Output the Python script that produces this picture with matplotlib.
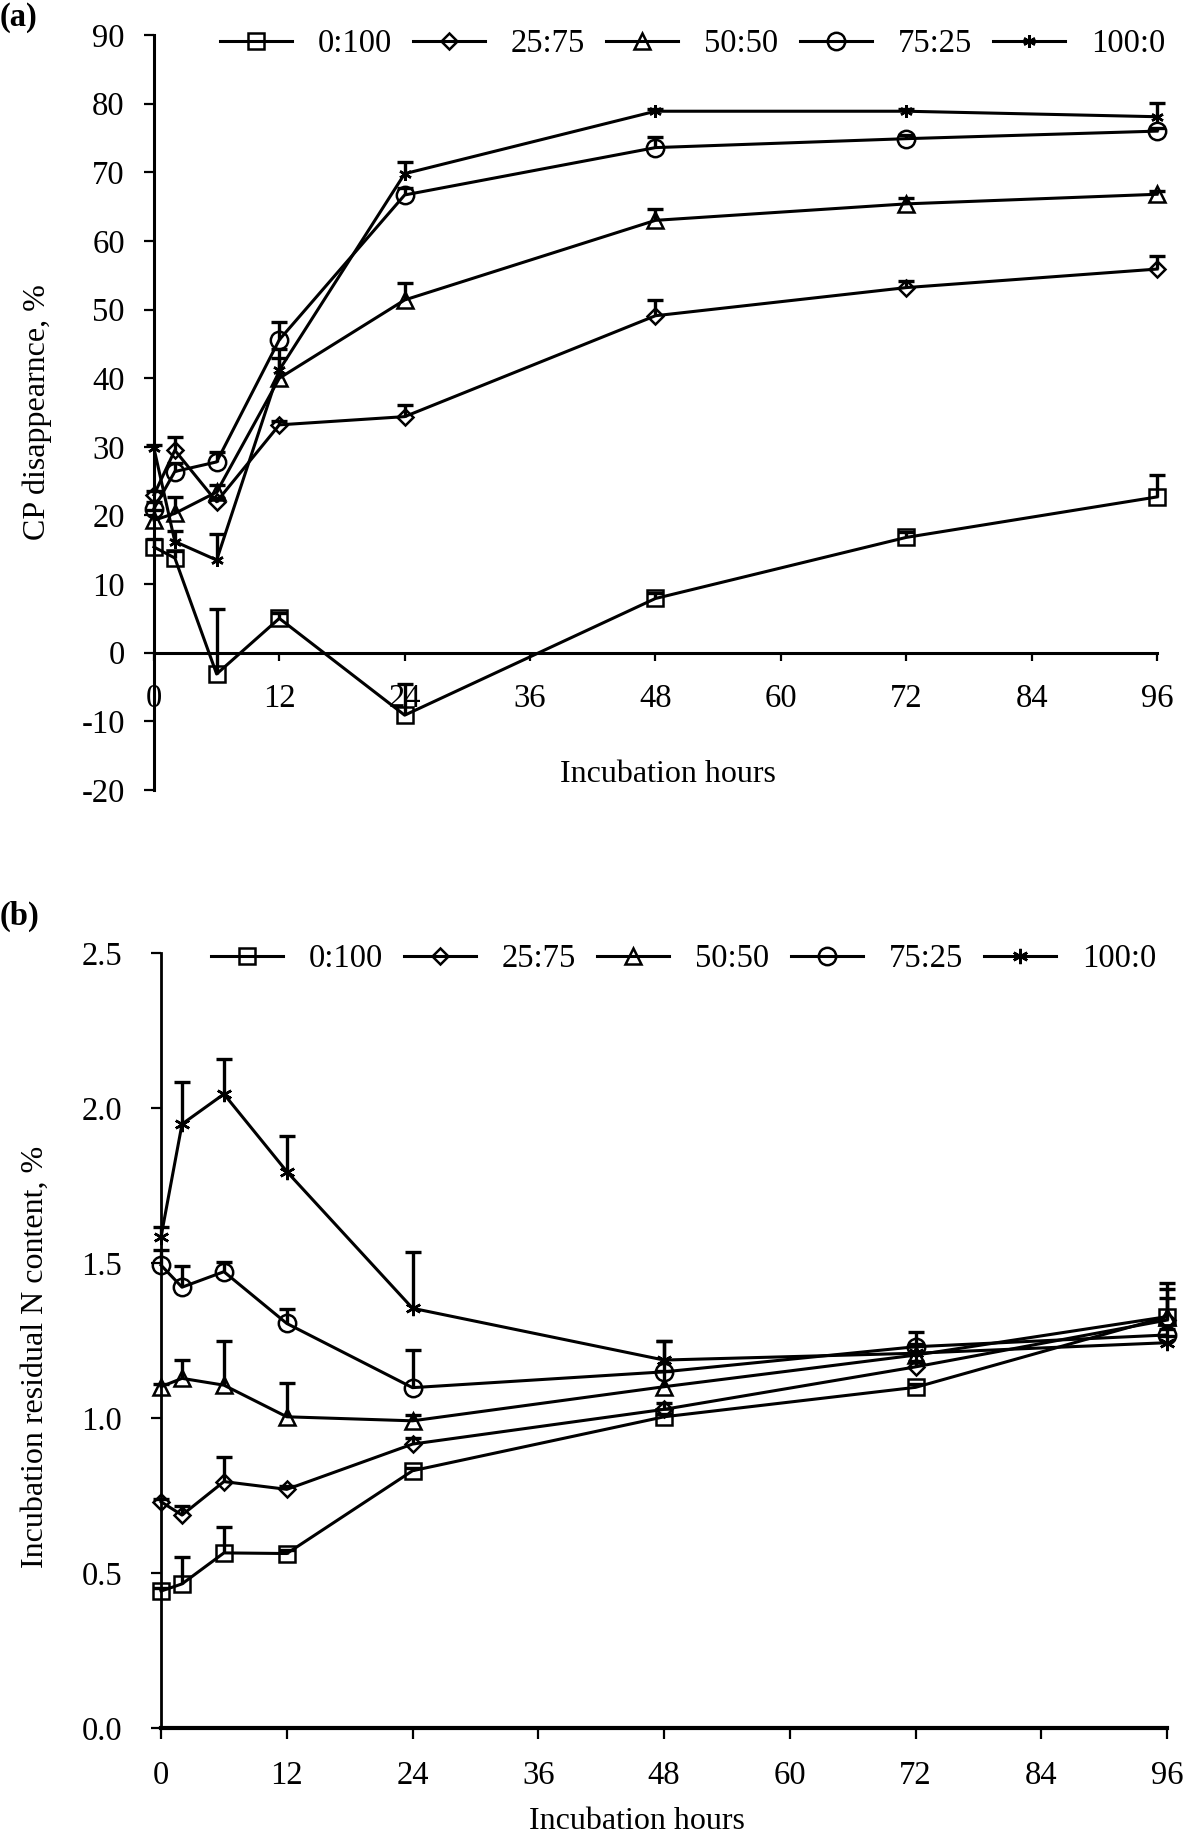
import numpy as np
import matplotlib.pyplot as plt

plt.rcParams['font.family'] = 'Liberation Serif'
plt.rcParams['axes.unicode_minus'] = False

# Horas de incubação
hours = [0, 2, 6, 12, 24, 48, 72, 96]
series = ["0:100", "25:75", "50:50", "75:25", "100:0"]

# (a) CP disappearance, %
cp_0_100 = [15.4, 13.8, -3.1, 5.0, -9.1, 7.9, 16.8, 22.7]
cp_0_100_err = [1.2, 1.0, 9.4, 0.8, 4.5, 0.8, 0.8, 3.2]
cp_25_75 = [23.0, 29.5, 22.0, 33.2, 34.4, 49.1, 53.2, 55.9]
cp_25_75_err = [0.5, 2.0, 0.5, 0.5, 1.7, 2.3, 1.0, 1.9]
cp_50_50 = [19.3, 20.3, 23.4, 40.0, 51.4, 63.0, 65.4, 66.8]
cp_50_50_err = [1.5, 2.4, 1.0, 3.0, 2.5, 1.7, 0.8, 0.5]
cp_75_25 = [21.0, 26.4, 27.8, 45.6, 66.7, 73.6, 74.9, 76.0]
cp_75_25_err = [1.0, 1.2, 1.5, 2.6, 1.0, 1.5, 0.5, 0.5]
cp_100_0 = [29.8, 16.2, 13.5, 41.2, 69.8, 78.9, 78.9, 78.1]
cp_100_0_err = [0.5, 1.5, 3.8, 3.0, 1.7, 0.3, 0.3, 2.0]

# (b) Incubation residual N content, %
n_0_100 = [0.443, 0.466, 0.566, 0.564, 0.831, 1.005, 1.100, 1.328]
n_0_100_err = [0.01, 0.087, 0.085, 0.01, 0.01, 0.01, 0.01, 0.11]
n_25_75 = [0.731, 0.688, 0.796, 0.771, 0.917, 1.029, 1.166, 1.317]
n_25_75_err = [0.01, 0.03, 0.078, 0.01, 0.02, 0.02, 0.02, 0.07]
n_50_50 = [1.102, 1.129, 1.107, 1.005, 0.992, 1.102, 1.204, 1.328]
n_50_50_err = [0.01, 0.06, 0.143, 0.11, 0.02, 0.05, 0.03, 0.09]
n_75_25 = [1.494, 1.423, 1.473, 1.306, 1.099, 1.150, 1.231, 1.269]
n_75_25_err = [0.05, 0.068, 0.032, 0.048, 0.12, 0.10, 0.048, 0.02]
n_100_0 = [1.586, 1.949, 2.046, 1.796, 1.355, 1.188, 1.210, 1.244]
n_100_0_err = [0.03, 0.137, 0.113, 0.115, 0.183, 0.06, 0.03, 0.02]

cp_vals = [cp_0_100, cp_25_75, cp_50_50, cp_75_25, cp_100_0]
cp_errs = [cp_0_100_err, cp_25_75_err, cp_50_50_err, cp_75_25_err, cp_100_0_err]
n_vals = [n_0_100, n_25_75, n_50_50, n_75_25, n_100_0]
n_errs = [n_0_100_err, n_25_75_err, n_50_50_err, n_75_25_err, n_100_0_err]

markers = ['s', 'D', '^', 'o', (6, 2, 0)]
msizes = [12, 8.5, 11.5, 12.5, 9]

FS = 23.5


def desenhar(ax, valores, erros, msz_star):
    x = np.array(hours)
    for i, nome in enumerate(series):
        y = np.array(valores[i])
        e = np.array(erros[i])
        ms = msizes[i] if i < 4 else msz_star
        # barras de erro só para cima
        ax.vlines(x, y, y + e, colors='black', lw=2.4, clip_on=False, zorder=2)
        ax.plot(x, y + e, '_', color='black', ms=11.5, mew=2.4, clip_on=False, zorder=2)
        ax.plot(x, y, color='black', lw=2.2, marker=markers[i], ms=ms,
                mfc='none', mec='black', mew=1.8, label=nome, clip_on=False, zorder=3)
    ax.set_xlim(0, 96)
    ax.set_xticks(range(0, 97, 12))
    for s in ['top', 'right']:
        ax.spines[s].set_visible(False)
    ax.spines['bottom'].set_position(('data', 0))
    ax.tick_params(axis='both', labelsize=FS, direction='out', width=1.6, colors='black')


fig = plt.figure(figsize=(11.86, 18.35), dpi=100)

# Painel (a)
ax1 = fig.add_axes([0.1298, 0.5695, 0.8457, 0.4114])
desenhar(ax1, cp_vals, cp_errs, 9)
ax1.set_ylim(-20, 90)
ax1.set_yticks(range(-20, 91, 10))
ax1.spines['left'].set_linewidth(2.2)
ax1.spines['bottom'].set_linewidth(2.2)
ax1.tick_params(axis='y', length=7, pad=14)
ax1.tick_params(axis='x', length=6, pad=16)
ax1.set_xlabel("Incubation hours", fontsize=23)
ax1.xaxis.set_label_coords(0.5125, 0.02)
ax1.xaxis.label.set_va('center')
ax1.set_ylabel("CP disappearnce, %", fontsize=23)
ax1.yaxis.set_label_coords(-0.1167, 0.5)
ax1.yaxis.label.set_va('center')
ax1.legend(loc='center', bbox_to_anchor=(0.5839, 0.976), bbox_transform=fig.transFigure,
           ncol=5, frameon=False, fontsize=FS, handlelength=2.2, handletextpad=0.8,
           columnspacing=0.65, borderpad=0)

# Painel (b)
ax2 = fig.add_axes([0.1358, 0.0581, 0.8482, 0.4224])
desenhar(ax2, n_vals, n_errs, 11)
ax2.set_ylim(0, 2.5)
ax2.set_yticks(np.arange(0, 2.51, 0.5))
ax2.set_yticklabels([f"{v:.1f}" for v in np.arange(0, 2.51, 0.5)])
ax2.spines['left'].set_linewidth(2)
ax2.spines['bottom'].set_linewidth(3)
ax2.tick_params(axis='y', length=7, pad=21)
ax2.tick_params(axis='x', length=8, pad=15)
ax2.set_xlabel("Incubation hours", fontsize=23)
ax2.xaxis.set_label_coords(0.473, -0.1196)
ax2.xaxis.label.set_va('center')
ax2.set_ylabel("Incubation residual N content, %", fontsize=23)
ax2.yaxis.set_label_coords(-0.125, 0.479)
ax2.yaxis.label.set_va('center')
ax2.legend(loc='center', bbox_to_anchor=(0.5763, 0.4774), bbox_transform=fig.transFigure,
           ncol=5, frameon=False, fontsize=FS, handlelength=2.2, handletextpad=0.8,
           columnspacing=0.65, borderpad=0)

fig.text(0.0, 0.9907, "(a)", fontsize=FS, fontweight='bold', ha='left', va='center')
fig.text(0.0, 0.5008, "(b)", fontsize=FS, fontweight='bold', ha='left', va='center')

plt.savefig("out.png", dpi=100)
